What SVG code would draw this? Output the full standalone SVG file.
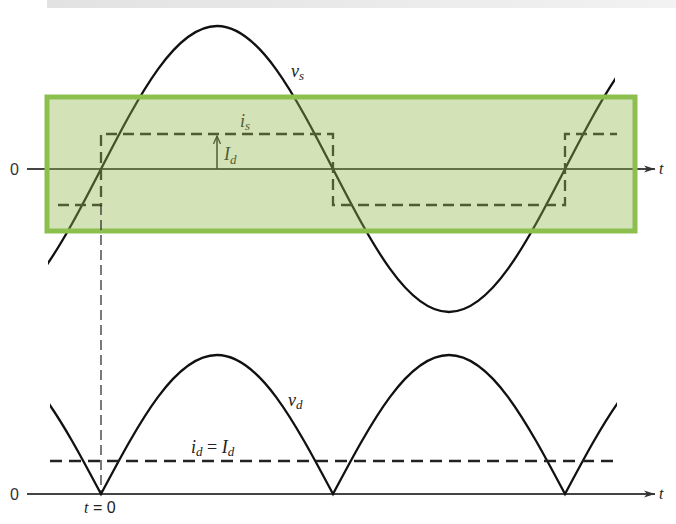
<svg xmlns="http://www.w3.org/2000/svg" width="676" height="524" viewBox="0 0 676 524">
<style>
.curve{fill:none;stroke:#111;stroke-width:2.3}
.axis{fill:none;stroke:#444;stroke-width:1.9}
.dash{fill:none;stroke:#222;stroke-width:2.3;stroke-dasharray:11 6}
.thin{fill:none;stroke:#222;stroke-width:1.2;stroke-dasharray:10 5}
.lbl{font-family:"Liberation Serif",serif;font-style:italic;font-size:18px;fill:#222}
.sub{font-size:13px}
.num{font-family:"Liberation Sans",sans-serif;font-size:16px;fill:#333}
</style>
<defs>
<linearGradient id="bar" x1="0" x2="1" y1="0" y2="0">
<stop offset="0" stop-color="#e2e2e2"/><stop offset="1" stop-color="#f2f2f2"/>
</linearGradient>
<marker id="ax" markerWidth="12" markerHeight="10" refX="11" refY="5" orient="auto" markerUnits="userSpaceOnUse">
<path d="M0,1.5 L11,5 L0,8.5 L3,5 Z" fill="#333"/>
</marker>
<marker id="up" markerWidth="8" markerHeight="10" refX="4" refY="1" orient="0" markerUnits="userSpaceOnUse">
<path d="M0.5,9 L4,1 L7.5,9" fill="none" stroke="#222" stroke-width="1.3"/>
</marker>
<clipPath id="ctop"><rect x="48" y="0" width="567" height="524"/></clipPath>
<clipPath id="cbot"><rect x="50" y="0" width="567" height="524"/></clipPath>
</defs>
<rect x="47" y="0" width="629" height="8" fill="url(#bar)"/>

<g id="top-plot">
<path class="axis" d="M27,169 H655" marker-end="url(#ax)"/>
<path class="curve" clip-path="url(#ctop)" d="M-131,169 C-92.22,244.09 -56.78,312 -15,312 C26.78,312 62.22,244.09 101,169 C139.78,93.91 175.22,26 217,26 C258.78,26 294.22,93.91 333,169 C371.78,244.09 407.22,312 449,312 C490.78,312 526.22,244.09 565,169 C603.78,93.91 639.22,26 681,26"/>
<path class="dash" d="M58,205 H101 V134 H333 V205 H565 V134 H617"/>
<path fill="none" stroke="#222" stroke-width="1.5" d="M217,169 V136" marker-end="url(#up)"/>
<text class="lbl" x="240" y="127">i<tspan class="sub" dy="3">s</tspan></text>
<text class="lbl" x="224" y="160">I<tspan class="sub" dy="4">d</tspan></text>
</g>

<g id="highlight">
<rect x="47" y="97" width="588" height="134" fill="#93b64d" fill-opacity="0.4" stroke="#8cbf4e" stroke-width="5"/>
</g>

<g id="labels-top">
<text class="lbl" x="291" y="77">v<tspan class="sub" dy="3">s</tspan></text>
<text class="num" x="10" y="175">0</text>
<text class="lbl" x="659" y="174" style="font-size:16px">t</text>
</g>

<g id="connectors">
<path class="thin" d="M101,205 V492"/>
</g>

<g id="bottom-plot">
<path class="axis" d="M27,494 H655" marker-end="url(#ax)"/>
<path class="curve" clip-path="url(#cbot)" d="M-131,494 C-92.22,421.01 -56.78,355 -15,355 C26.78,355 62.22,421.01 101,494 C139.78,421.01 175.22,355 217,355 C258.78,355 294.22,421.01 333,494 C371.78,421.01 407.22,355 449,355 C490.78,355 526.22,421.01 565,494 C603.78,421.01 639.22,355 681,355"/>
<path class="dash" style="stroke-dasharray:12 7" d="M50,461 H617"/>
<text class="lbl" x="288" y="406">v<tspan class="sub" dy="3">d</tspan></text>
<text class="lbl" x="191" y="453">i<tspan class="sub" dy="3">d</tspan><tspan dy="-3" style="font-style:normal"> = </tspan>I<tspan class="sub" dy="3">d</tspan></text>
<text class="num" x="10" y="500">0</text>
<text class="lbl" x="659" y="499" style="font-size:16px">t</text>
<text class="lbl" x="84" y="513" style="font-size:16px">t<tspan style="font-family:'Liberation Sans',sans-serif;font-style:normal;font-size:16px"> = 0</tspan></text>
</g>
</svg>
